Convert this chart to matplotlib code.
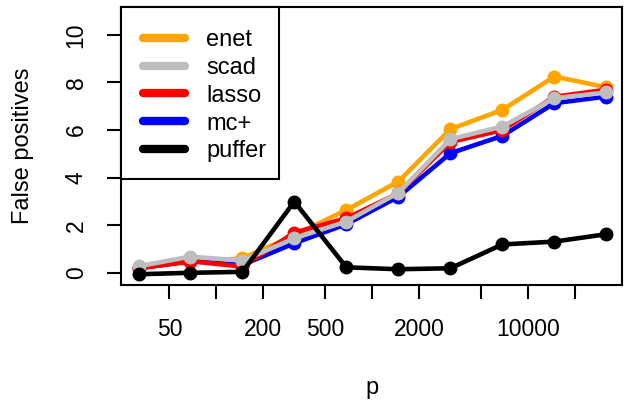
import numpy as np
import matplotlib
matplotlib.use("Agg")
import matplotlib.pyplot as plt
from matplotlib.patches import Rectangle
from matplotlib.lines import Line2D

plt.rcParams['font.family'] = ['Liberation Sans', 'DejaVu Sans']

p = [32, 68, 147, 316, 681, 1468, 3162, 6813, 14678, 31623]
enet = [0.24, 0.45, 0.62, 1.58, 2.65, 3.84, 6.04, 6.85, 8.25, 7.80]
scad = [0.29, 0.69, 0.52, 1.46, 2.16, 3.37, 5.62, 6.15, 7.34, 7.58]
lasso = [0.20, 0.50, 0.27, 1.70, 2.30, 3.35, 5.50, 6.00, 7.40, 7.70]
mcplus = [0.20, 0.50, 0.34, 1.25, 2.05, 3.20, 5.03, 5.76, 7.13, 7.41]
puffer = [-0.05, 0.01, 0.05, 3.00, 0.24, 0.16, 0.20, 1.20, 1.32, 1.63]

xticks = [50, 100, 200, 500, 1000, 2000, 5000, 10000, 20000]
xticklabels = ["50", "", "200", "500", "", "2000", "", "10000", ""]
yticks = [0, 2, 4, 6, 8, 10]

fig = plt.figure(figsize=(6.24, 4.01), dpi=100)
ax = fig.add_axes([0.194, 0.29, 0.803, 0.692])

lw = 3.3
ms = 9
ax.plot(p, enet, "-o", color="orange", lw=lw, ms=ms, label="enet", zorder=2)
ax.plot(p, mcplus, "-o", color="blue", lw=lw, ms=ms, label="mc+", zorder=3)
ax.plot(p, lasso, "-o", color="red", lw=lw, ms=ms, label="lasso", zorder=4)
ax.plot(p, scad, "-o", color="#BEBEBE", lw=lw, ms=ms, label="scad", zorder=5)
ax.plot(p, puffer, "-o", color="black", lw=lw, ms=ms, label="puffer", zorder=6)

ax.set_xscale("log")
ax.set_xlim(10**1.389, 10**4.601)
ax.set_ylim(-0.49, 11.16)
ax.set_xticks(xticks)
ax.set_xticklabels(xticklabels)
ax.xaxis.set_minor_locator(matplotlib.ticker.NullLocator())
ax.set_yticks(yticks)
ax.set_yticklabels([str(v) for v in yticks], rotation=90, va="center")

for s in ax.spines.values():
    s.set_linewidth(1.5)
ax.tick_params(axis="both", length=10, width=1.5, labelsize=16.5)
ax.tick_params(axis="x", pad=14)
ax.tick_params(axis="y", pad=14)

ax.set_xlabel("p", fontsize=17, labelpad=26)
ax.set_ylabel("False positives", fontsize=17, labelpad=22)

# legend, R style: own box with uneven padding
handles, labels = ax.get_legend_handles_labels()
order = [labels.index(n) for n in ["enet", "scad", "lasso", "mc+", "puffer"]]
leg = ax.legend([Line2D([], [], color=handles[i].get_color(), lw=6, solid_capstyle="round") for i in order],
                [labels[i] for i in order],
                loc="upper left", bbox_to_anchor=(0.0128, 0.977), borderaxespad=0,
                frameon=False, fontsize=17, handlelength=1.78, handletextpad=0.9,
                labelspacing=0.245, borderpad=0.66)
leg.set_zorder(11)
box = Rectangle((0, 0.381), 0.315, 0.619, transform=ax.transAxes, facecolor="white",
                edgecolor="black", lw=1.5, zorder=10, clip_on=False)
ax.add_patch(box)

fig.savefig("out.png", dpi=100)
